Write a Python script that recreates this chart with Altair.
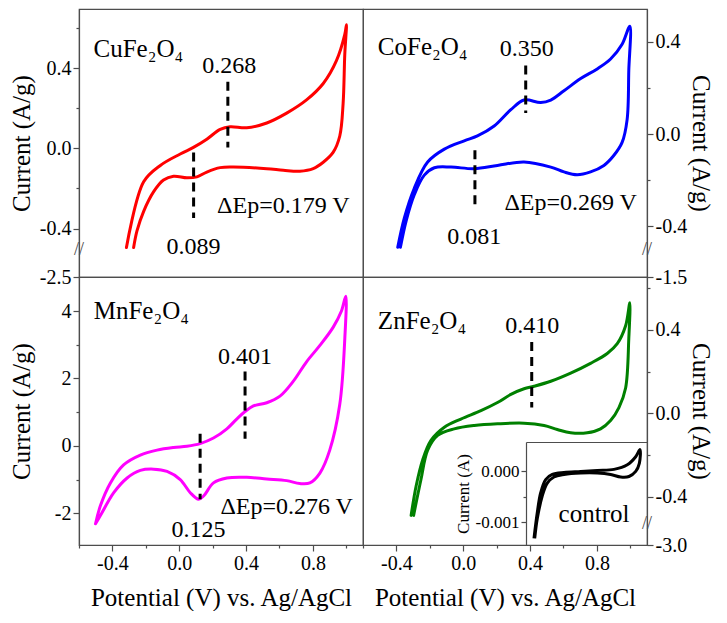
import json
import altair as alt
import pandas as pd

FONT = "Liberation Serif"
AX = "#4d4d4d"
W, H = 284, 268
X_DOMAIN = [-0.6, 1.1]

# ---------------- data ----------------
# CuFe2O4 : forward scan (upper) and reverse scan (lower)
cu_fwd_v = [-0.316, -0.213, -0.113, 0.006, 0.085, 0.165, 0.245, 0.304, 0.404, 0.524, 0.643, 0.762, 0.862, 0.941, 0.991, 1.001]
cu_fwd_i = [-0.495, -0.167, -0.085, -0.028, 0.005, 0.046, 0.095, 0.108, 0.103, 0.127, 0.176, 0.242, 0.324, 0.438, 0.569, 0.618]
cu_rev_v = [0.991, 0.981, 0.961, 0.921, 0.862, 0.802, 0.722, 0.623, 0.524, 0.324, 0.245, 0.165, 0.106, 0.046, -0.034, -0.094, -0.153, -0.213, -0.253, -0.273]
cu_rev_i = [0.471, 0.225, 0.062, -0.020, -0.069, -0.101, -0.114, -0.109, -0.101, -0.093, -0.096, -0.118, -0.142, -0.147, -0.139, -0.158, -0.216, -0.314, -0.412, -0.495]

# CoFe2O4
co_fwd_v = [-0.392, -0.352, -0.293, -0.213, -0.113, 0.006, 0.085, 0.185, 0.285, 0.364, 0.464, 0.524, 0.603, 0.703, 0.802, 0.882, 0.951, 0.997]
co_fwd_i = [-0.491, -0.363, -0.235, -0.121, -0.065, -0.029, -0.008, 0.035, 0.106, 0.148, 0.137, 0.148, 0.188, 0.241, 0.283, 0.326, 0.390, 0.468]
co_rev_v = [0.991, 0.981, 0.951, 0.901, 0.842, 0.762, 0.682, 0.603, 0.524, 0.364, 0.205, 0.066, -0.073, -0.173, -0.233, -0.293, -0.342, -0.376]
co_rev_i = [0.276, 0.063, -0.036, -0.093, -0.136, -0.164, -0.176, -0.164, -0.143, -0.121, -0.136, -0.150, -0.143, -0.146, -0.178, -0.263, -0.377, -0.491]

# MnFe2O4
mn_fwd_v = [-0.501, -0.472, -0.412, -0.333, -0.233, -0.133, -0.034, 0.046, 0.125, 0.205, 0.285, 0.344, 0.394, 0.444, 0.524, 0.603, 0.682, 0.762, 0.842, 0.921, 0.971, 0.997]
mn_fwd_i = [-2.31, -1.777, -1.098, -0.563, -0.272, -0.126, -0.048, -0.010, 0.068, 0.233, 0.505, 0.796, 1.019, 1.184, 1.280, 1.475, 1.912, 2.495, 2.980, 3.515, 4.000, 4.437]
mn_rev_v = [0.991, 0.961, 0.901, 0.842, 0.782, 0.722, 0.643, 0.524, 0.404, 0.285, 0.205, 0.146, 0.116, 0.066, 0.006, -0.073, -0.153, -0.233, -0.312, -0.392, -0.472, -0.501]
mn_rev_i = [3.175, 1.233, -0.126, -0.806, -1.098, -1.117, -1.030, -0.981, -0.932, -0.952, -1.098, -1.486, -1.582, -1.389, -1.000, -0.757, -0.690, -0.728, -0.952, -1.389, -2.068, -2.31]

# ZnFe2O4
zn_fwd_v = [-0.312, -0.282, -0.243, -0.193, -0.113, -0.014, 0.106, 0.205, 0.285, 0.364, 0.424, 0.524, 0.643, 0.762, 0.862, 0.922, 0.972, 0.997]
zn_fwd_i = [-0.489, -0.348, -0.223, -0.129, -0.066, -0.027, 0.013, 0.052, 0.091, 0.118, 0.130, 0.154, 0.193, 0.240, 0.287, 0.334, 0.420, 0.530]
zn_rev_v = [0.991, 0.972, 0.932, 0.882, 0.822, 0.742, 0.643, 0.563, 0.484, 0.364, 0.205, 0.066, -0.054, -0.153, -0.213, -0.253, -0.297]
zn_rev_i = [0.358, 0.122, 0.028, -0.034, -0.074, -0.093, -0.093, -0.077, -0.058, -0.047, -0.050, -0.058, -0.074, -0.105, -0.176, -0.317, -0.489]

# control (inset, current in A)
ct_fwd_v = [-0.301, -0.260, -0.218, -0.156, -0.074, 0.071, 0.278, 0.484, 0.691, 0.856, 0.960, 1.013]
ct_fwd_i = [-0.00132, -0.00081, -0.00042, -0.00016, -0.00006, -0.00002, 0.0, 0.00002, 0.00004, 0.00013, 0.00029, 0.00043]
ct_rev_v = [1.005, 0.960, 0.877, 0.774, 0.650, 0.484, 0.278, 0.071, -0.053, -0.136, -0.198, -0.260, -0.292]
ct_rev_i = [0.00016, 0.0, -0.00010, -0.00011, -0.00006, -0.00003, -0.00003, -0.00006, -0.00011, -0.00023, -0.00048, -0.00093, -0.00132]

# dashed peak markers: potential, current from, current to
cu_dash_v = [0.291, 0.086]
cu_dash_i1 = [0.333, -0.020]
cu_dash_i2 = [0.005, -0.348]
co_dash_v = [0.374, 0.070]
co_dash_i1 = [0.298, -0.070]
co_dash_i2 = [0.092, -0.320]
mn_dash_v = [0.394, 0.125]
mn_dash_i1 = [2.205, 0.358]
mn_dash_i2 = [0.213, -1.582]
zn_dash_v = [0.410]
zn_dash_i1 = [0.342]
zn_dash_i2 = [0.028]

# annotation texts
cu_lab_t = ["0.268", "0.089", "\u0394Ep=0.179 V"]
cu_lab_v = [0.300, 0.086, 0.623]
cu_lab_i = [0.412, -0.494, -0.289]
co_lab_t = ["0.350", "0.081", "\u0394Ep=0.269 V"]
co_lab_v = [0.380, 0.066, 0.643]
co_lab_i = [0.369, -0.448, -0.299]
mn_lab_t = ["0.401", "0.125", "\u0394Ep=0.276 V"]
mn_lab_v = [0.394, 0.116, 0.643]
mn_lab_i = [2.64, -2.50, -1.826]
zn_lab_t = ["0.410"]
zn_lab_v = [0.413]
zn_lab_i = [0.420]

names = ["CuFe\u2082O\u2084", "CoFe\u2082O\u2084", "MnFe\u2082O\u2084", "ZnFe\u2082O\u2084"]
name_v = [-0.513, -0.511, -0.512, -0.511]
name_i = [0.495, 0.376, 4.0, 0.444]

# y scales (bottom value, top value), axis ticks and break labels
cu_ydom = [-0.642, 0.696]
co_ydom = [-0.620, 0.543]
mn_ydom = [-2.94, 5.01]
zn_ydom = [-0.631, 0.654]
ct_ydom = [-0.00145, 0.00058]
ct_xdom = [-0.4, 1.1]

# ---------------- helpers ----------------
def curve_df(fv, fi, rv, ri):
    v = list(fv) + list(rv)
    i = list(fi) + list(ri)
    return pd.DataFrame({"v": v, "i": i, "k": list(range(len(v)))})


def tick_size(minors, major=6, minor=3):
    test = "indexof(%s, datum.value) >= 0" % json.dumps(minors)
    return {"condition": {"test": test, "value": minor}, "value": major}


def label_expr(minors, fmt, special=None):
    test = "indexof(%s, datum.value) >= 0" % json.dumps(minors)
    lab = "replace(format(datum.value, '%s'), '\u2212', '-')" % fmt
    if special is not None:
        lab = "datum.value < %s ? '%s' : %s" % (special[0], special[1], lab)
    return "%s ? '' : %s" % (test, lab)


def xenc(bottom):
    if bottom:
        minors = [-0.6, -0.2, 0.2, 0.6, 1.0]
        axis = alt.Axis(
            values=[-0.4, 0.0, 0.4, 0.8] + minors,
            labelExpr=label_expr(minors, ".1f"),
            tickSize=tick_size(minors),
            title="Potential (V) vs. Ag/AgCl",
            titlePadding=12,
            labelFlush=False,
            labelOverlap=False,
        )
    else:
        axis = None
    return alt.X("v:Q", scale=alt.Scale(domain=X_DOMAIN, nice=False, zero=False), axis=axis)


def yenc(domain, orient, majors, minors, fmt, special=None):
    axis = alt.Axis(
        orient=orient,
        values=majors + minors,
        labelExpr=label_expr(minors, fmt, special),
        tickSize=tick_size(minors),
        title="Current (A/g)",
        titleX=-45 if orient == "left" else 40,
        labelFlush=False,
        labelOverlap=False,
    )
    return alt.Y("i:Q", scale=alt.Scale(domain=domain, nice=False, zero=False), axis=axis)


def panel(df, color, dv, d1, d2, lt, lv, li, name, nv, ni, ydomain, orient, majors, minors, fmt,
          special=None, bottom=False, brk=None):
    X = xenc(bottom)
    Y = yenc(ydomain, orient, majors, minors, fmt, special)
    line = alt.Chart(df).mark_line(
        interpolate="catmull-rom", color=color, strokeWidth=3, strokeCap="round"
    ).encode(x=X, y=Y, order="k:Q")
    dash_df = pd.DataFrame({"v": dv, "i": d1, "i2": d2})
    dashes = alt.Chart(dash_df).mark_rule(
        color="black", strokeWidth=3, strokeDash=[9, 6]
    ).encode(x=X, y=Y, y2="i2:Q")
    lab_df = pd.DataFrame({"v": lv, "i": li, "t": lt})
    labels = alt.Chart(lab_df).mark_text(
        font=FONT, fontSize=24, color="black", align="center", baseline="middle"
    ).encode(x=X, y=Y, text="t:N")
    name_df = pd.DataFrame({"v": [nv], "i": [ni], "t": [name]})
    nm = alt.Chart(name_df).mark_text(
        font=FONT, fontSize=25, color="black", align="left", baseline="middle"
    ).encode(x=X, y=Y, text="t:N")
    layers = [line, dashes, labels, nm]
    if brk is not None:
        brk_df = pd.DataFrame({"v": [brk[0]], "i": [brk[1]], "t": ["//"]})
        layers.append(
            alt.Chart(brk_df).mark_text(
                font=FONT, fontSize=18, color=AX, align="center", baseline="middle", dy=1
            ).encode(x=X, y=Y, text="t:N")
        )
    return alt.layer(*layers)


# ---------------- panels ----------------
cu = panel(curve_df(cu_fwd_v, cu_fwd_i, cu_rev_v, cu_rev_i), "#ff0000",
           cu_dash_v, cu_dash_i1, cu_dash_i2, cu_lab_t, cu_lab_v, cu_lab_i,
           names[0], name_v[0], name_i[0], cu_ydom, "left",
           [cu_ydom[0], -0.4, 0.0, 0.4], [-0.2, 0.2, 0.6], ".1f",
           special=(-0.6, "-2.5"), bottom=False, brk=(X_DOMAIN[0], -0.50)).properties(width=W, height=H)

co = panel(curve_df(co_fwd_v, co_fwd_i, co_rev_v, co_rev_i), "#0000ff",
           co_dash_v, co_dash_i1, co_dash_i2, co_lab_t, co_lab_v, co_lab_i,
           names[1], name_v[1], name_i[1], co_ydom, "right",
           [co_ydom[0], -0.4, 0.0, 0.4], [-0.2, 0.2], ".1f",
           special=(-0.6, "-1.5"), bottom=False, brk=(X_DOMAIN[1], -0.497)).properties(width=W, height=H)

mn = panel(curve_df(mn_fwd_v, mn_fwd_i, mn_rev_v, mn_rev_i), "#ff00ff",
           mn_dash_v, mn_dash_i1, mn_dash_i2, mn_lab_t, mn_lab_v, mn_lab_i,
           names[2], name_v[2], name_i[2], mn_ydom, "left",
           [-2, 0, 2, 4], [-1, 1, 3], ".0f",
           special=None, bottom=True, brk=None).properties(width=W, height=H)

zn_main = panel(curve_df(zn_fwd_v, zn_fwd_i, zn_rev_v, zn_rev_i), "#008000",
                zn_dash_v, zn_dash_i1, zn_dash_i2, zn_lab_t, zn_lab_v, zn_lab_i,
                names[3], name_v[3], name_i[3], zn_ydom, "right",
                [zn_ydom[0], -0.4, 0.0, 0.4], [-0.2, 0.2, 0.6], ".1f",
                special=(-0.6, "-3.0"), bottom=True, brk=(X_DOMAIN[1], -0.527))

# inset (control)
ct_df = pd.DataFrame({"cv": ct_fwd_v + ct_rev_v, "ci": ct_fwd_i + ct_rev_i,
                      "k": list(range(len(ct_fwd_v) + len(ct_rev_v)))})
ct_minors = [-0.0005]
CX = alt.X("cv:Q", scale=alt.Scale(domain=ct_xdom, range=[163, W], nice=False, zero=False),
           axis=alt.Axis(orient="top", offset=-165, labels=False, ticks=False, title=None, grid=False))
CY = alt.Y("ci:Q", scale=alt.Scale(domain=ct_ydom, range=[H, 165], nice=False, zero=False),
           axis=alt.Axis(orient="left", offset=-163,
                         values=[-0.001, 0.0] + ct_minors,
                         labelExpr=label_expr(ct_minors, ".3f"),
                         tickSize=tick_size(ct_minors, 5, 3),
                         labelFontSize=17, title="Current (A)", titleFontSize=17,
                         titlePadding=3, labelPadding=2, labelFlush=False, labelOverlap=False))
ct_line = alt.Chart(ct_df).mark_line(
    interpolate="catmull-rom", color="black", strokeWidth=3
).encode(x=CX, y=CY, order="k:Q")
ct_text = alt.Chart(pd.DataFrame({"cv": [0.443], "ci": [-0.00084], "t": ["control"]})).mark_text(
    font=FONT, fontSize=25, color="black", align="center", baseline="middle"
).encode(x=CX, y=CY, text="t:N")
inset = alt.layer(ct_line, ct_text)

zn = alt.layer(zn_main, inset).resolve_scale(x="independent", y="independent").properties(width=W, height=H)

chart = alt.concat(cu, co, mn, zn, columns=2, spacing=0, bounds="flush").properties(
    padding={"left": 0, "top": 0, "right": 0, "bottom": 0}
).configure_view(
    stroke=AX, strokeWidth=1.2
).configure_axis(
    domainColor=AX, tickColor=AX, domainWidth=1.2, tickWidth=1.2,
    labelColor="black", titleColor="black",
    labelFont=FONT, titleFont=FONT, labelFontSize=20, titleFontSize=25,
    titleFontWeight="normal", labelPadding=2, grid=False,
)

chart.save("out.html", embed_options={"renderer": "svg", "actions": False})
